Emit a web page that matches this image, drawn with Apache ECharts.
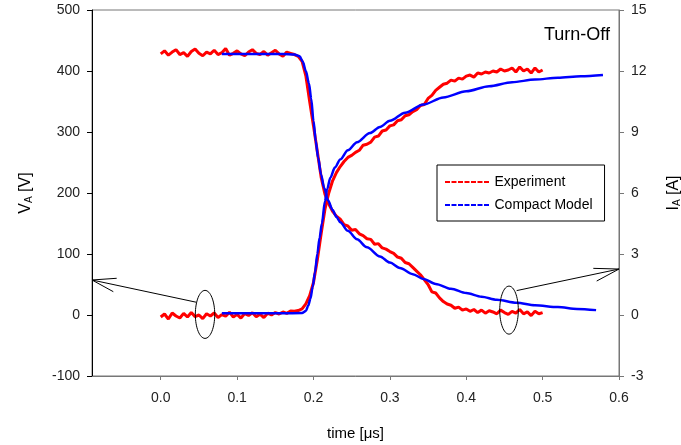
<!DOCTYPE html>
<html>
<head>
<meta charset="utf-8">
<script src="https://cdn.jsdelivr.net/npm/echarts@6/dist/echarts.min.js"></script>
<style>
html,body{margin:0;padding:0;background:#fff;}
#chart{width:681px;height:445px;}
</style>
</head>
<body>
<div id="chart"></div>
<script>
// ---- data ----
const xTicks = [0.0, 0.1, 0.2, 0.3, 0.4, 0.5, 0.6];

const expTime = [0,0.005,0.01,0.015,0.02,0.025,0.03,0.035,0.04,0.045,0.05,0.055,0.06,0.065,0.07,0.075,0.08,0.085,0.09,0.095,
0.1,0.105,0.11,0.115,0.12,0.125,0.13,0.135,0.14,0.145,0.15,0.155,0.16,0.165,0.17,0.175,0.18,0.185,0.19,0.195,
0.2,0.205,0.21,0.215,0.22,0.225,0.23,0.235,0.24,0.245,0.25,0.255,0.26,0.265,0.27,0.275,0.28,0.285,0.29,0.295,
0.3,0.305,0.31,0.315,0.32,0.325,0.33,0.335,0.34,0.345,0.35,0.355,0.36,0.365,0.37,0.375,0.38,0.385,0.39,0.395,
0.4,0.405,0.41,0.415,0.42,0.425,0.43,0.435,0.44,0.445,0.45,0.455,0.46,0.465,0.47,0.475,0.48,0.485,0.49,0.495,0.5];

const expVoltage = [428,433,426,431,435,427,430,424,432,436,429,425,431,428,434,427,430,437,426,429,
433,428,425,431,435,429,427,432,426,430,434,428,424,431,429,427,424,416,392,350,
310,268,226,198,182,170,162,157,148,146,139,140,133,130,125,124,116,117,110,108,
104,101,95,93,86,84,78,72,66,58,50,38,36,28,22,18,16,11,13,8,
10,6,9,4,8,3,7,5,2,8,4,1,6,3,9,2,5,-1,6,2,4];

const expCurrent = [-0.1,0.05,-0.2,0.1,-0.05,-0.15,0.08,-0.1,0.12,-0.08,0.0,-0.18,0.06,-0.05,0.1,-0.12,0.02,-0.06,0.14,-0.1,
0.03,-0.15,0.07,-0.02,0.11,-0.08,0.04,-0.13,0.09,0.0,0.12,0.05,0.15,0.08,0.2,0.18,0.22,0.3,0.55,0.95,
1.6,2.7,4.0,5.2,6.0,6.6,7.0,7.3,7.55,7.75,7.85,8.0,8.1,8.35,8.4,8.5,8.75,8.8,9.05,9.1,
9.3,9.35,9.55,9.6,9.8,9.85,10.0,10.1,10.3,10.35,10.65,10.8,11.05,11.2,11.35,11.4,11.55,11.5,11.65,11.6,
11.75,11.8,11.7,11.9,11.85,11.95,11.9,12.0,11.95,12.1,12.0,12.05,12.15,11.95,12.2,12.0,12.1,11.9,12.15,11.95,12.05];

const modelVTime = [0.08,0.1,0.12,0.14,0.16,0.175,0.182,0.186,0.19,0.194,0.197,0.2,0.203,0.206,0.21,0.214,0.219,0.225,0.23,0.235,
0.245,0.257,0.27,0.287,0.3,0.313,0.33,0.344,0.36,0.38,0.4,0.42,0.44,0.466,0.49,0.52,0.545,0.57];
const modelVoltage = [428,428,428,428,428,427,424,415,400,380,355,318,285,258,230,208,188,172,161,152,
138,124,111,96,86,77,67,59,51,43,36,30,25,20,16,13,10,8];

const modelITime = [0.08,0.12,0.16,0.185,0.19,0.193,0.196,0.199,0.202,0.205,0.208,0.211,0.215,0.218,0.222,0.228,0.235,0.245,0.257,0.274,
0.287,0.3,0.32,0.344,0.37,0.4,0.43,0.46,0.49,0.52,0.55,0.579];
const modelCurrent = [0.08,0.08,0.08,0.1,0.2,0.45,0.8,1.4,2.1,3.0,3.8,4.5,5.6,6.2,6.75,7.25,7.65,8.1,8.5,8.95,
9.25,9.55,9.95,10.35,10.7,11.0,11.25,11.45,11.58,11.67,11.74,11.8];

// annotation anchors (data coords): ellipse centre, arrow start, arrow tip
const leftNote  = {centre:[0.058, 1], from:[0.0463, 21], tip:[-0.09, 57.4]};     // tip on V axis
const rightNote = {centre:[0.456, 8], from:[0.466, 40], tip:[0.6, 2.26]};        // tip on I axis

// ---- chart ----
const FONT = '"Liberation Sans", Arial, sans-serif';
const zip = (a, b) => a.map((v, i) => [v, b[i]]);
const dashIcon = 'path://M0,0h5v2h-5z M6.5,0h5v2h-5z M13,0h5v2h-5z M19.5,0h5v2h-5z M26,0h5v2h-5z M32.5,0h5v2h-5z M39,0h5v2h-5z';

const chart = echarts.init(document.getElementById('chart'), null, {renderer:'canvas'});
const option = {
  animation:false,
  backgroundColor:'#fff',
  textStyle:{fontFamily:FONT},
  title:{text:'Turn-Off', right:71, top:26, padding:0,
    textStyle:{fontSize:18, fontWeight:'normal', color:'#000', fontFamily:FONT}},
  grid:{left:92, right:62, top:10, bottom:69, show:true, borderColor:'#777', borderWidth:1,
    backgroundColor:'transparent', containLabel:false, outerBoundsMode:'none'},
  legend:{
    data:['Experiment','Compact Model'],
    orient:'vertical', left:437, top:165,
    padding:[10, 12, 9, 8], itemGap:9,
    borderColor:'#000', borderWidth:1, backgroundColor:'#fff',
    icon:dashIcon, itemWidth:45, itemHeight:2,
    textStyle:{fontSize:14, color:'#000', fontFamily:FONT}
  },
  xAxis:{
    type:'value', min:-0.09, max:0.6,
    name:'time [\u03bcs]', nameLocation:'middle', nameGap:50,
    nameTextStyle:{fontSize:15, color:'#000', fontFamily:FONT},
    axisLine:{show:true, onZero:false, lineStyle:{color:'#777', width:1}},
    axisTick:{show:true, inside:false, length:4, customValues:xTicks, lineStyle:{color:'#777'}},
    axisLabel:{customValues:xTicks, fontSize:14, color:'#222', margin:15, fontFamily:FONT,
      formatter:v => v.toFixed(1)},
    splitLine:{show:false}
  },
  yAxis:[{
    type:'value', min:-100, max:500, interval:100, position:'left',
    name:'V{sub|A} [V]', nameLocation:'middle', nameGap:58, nameRotate:90,
    nameTextStyle:{fontSize:16, color:'#000', fontFamily:FONT,
      rich:{sub:{fontSize:10, color:'#000', fontFamily:FONT, padding:[7,0,0,0]}}},
    axisLine:{show:true, onZero:false, lineStyle:{color:'#000', width:1}},
    axisTick:{show:true, length:5, lineStyle:{color:'#000'}},
    axisLabel:{fontSize:14, color:'#222', margin:12, fontFamily:FONT},
    splitLine:{show:false}
  },{
    type:'value', min:-3, max:15, interval:3, position:'right',
    name:'I{sub|A} [A]', nameLocation:'middle', nameGap:46, nameRotate:90,
    nameTextStyle:{fontSize:16, color:'#000', fontFamily:FONT,
      rich:{sub:{fontSize:10, color:'#000', fontFamily:FONT, padding:[7,0,0,0]}}},
    axisLine:{show:true, onZero:false, lineStyle:{color:'#777', width:1}},
    axisTick:{show:true, length:5, lineStyle:{color:'#777'}},
    axisLabel:{fontSize:14, color:'#222', margin:12, fontFamily:FONT},
    splitLine:{show:false}
  }],
  series:[
    {name:'Experiment', type:'line', yAxisIndex:0, data:zip(expTime, expVoltage),
      showSymbol:false, symbol:'none', color:'#ff0000', lineStyle:{color:'#ff0000', width:3}, z:2},
    {name:'Experiment', type:'line', yAxisIndex:1, data:zip(expTime, expCurrent),
      showSymbol:false, symbol:'none', color:'#ff0000', lineStyle:{color:'#ff0000', width:3}, z:2},
    {name:'Compact Model', type:'line', yAxisIndex:0, data:zip(modelVTime, modelVoltage), smooth:0.3, smoothMonotone:'x',
      showSymbol:false, symbol:'none', color:'#0000ff', lineStyle:{color:'#0000ff', width:2.5}, z:3},
    {name:'Compact Model', type:'line', yAxisIndex:1, data:zip(modelITime, modelCurrent), smooth:0.3, smoothMonotone:'x',
      showSymbol:false, symbol:'none', color:'#0000ff', lineStyle:{color:'#0000ff', width:2.5}, z:3}
  ]
};
chart.setOption(option);

// ---- annotations (ellipses + arrows), placed through the axes ----
const pV = d => chart.convertToPixel({xAxisIndex:0, yAxisIndex:0}, d);
const pI = d => chart.convertToPixel({xAxisIndex:0, yAxisIndex:1}, d);
const lc = pV(leftNote.centre), lf = pV(leftNote.from), lt = pV(leftNote.tip);
const rc = pV(rightNote.centre), rf = pV(rightNote.from), rt = pI(rightNote.tip);
const ln = {stroke:'#000', lineWidth:1, fill:null};
chart.setOption({graphic:[
  {type:'ellipse', shape:{cx:lc[0], cy:lc[1], rx:9.7, ry:24}, style:ln, z:10, silent:true},
  {type:'polyline', shape:{points:[lf, lt]}, style:ln, z:10, silent:true},
  {type:'polyline', shape:{points:[[lt[0]+24.7, lt[1]-1.7], lt, [lt[0]+21.3, lt[1]+11.7]]}, style:ln, z:10, silent:true},
  {type:'ellipse', shape:{cx:rc[0], cy:rc[1], rx:9.3, ry:24}, style:ln, z:10, silent:true},
  {type:'polyline', shape:{points:[rf, rt]}, style:ln, z:10, silent:true},
  {type:'polyline', shape:{points:[[rt[0]-25.7, rt[1]-0.7], rt, [rt[0]-22.3, rt[1]+12]]}, style:ln, z:10, silent:true}
]});
</script>
</body>
</html>
